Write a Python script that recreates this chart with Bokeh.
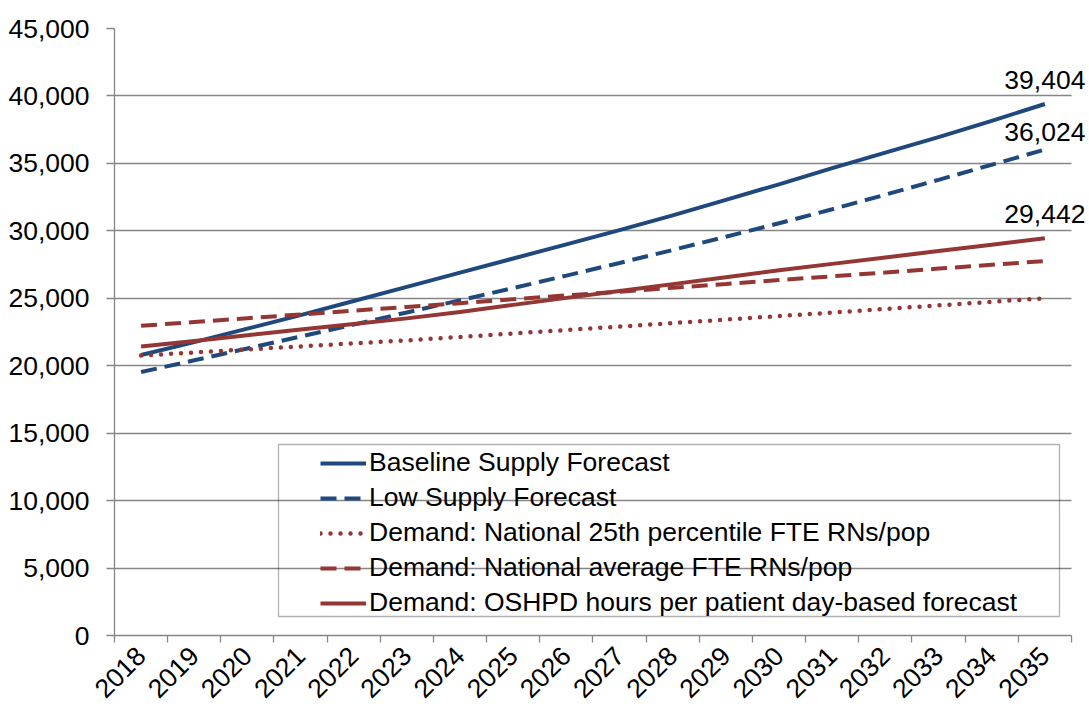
import math
from bokeh.plotting import figure
from bokeh.models import (Range1d, FixedTicker, NumeralTickFormatter, Legend, LegendItem,
                          Label, BoxAnnotation)
from bokeh.embed import file_html
from bokeh.resources import INLINE

years = list(range(2018, 2036))
baseline = [20800, 21750, 22750, 23750, 24800, 25850, 26900, 27950, 29000,
            30050, 31150, 32300, 33450, 34650, 35800, 36950, 38150, 39404]
low_supply = [19530, 20400, 21280, 22160, 23050, 23950, 24850, 25760, 26680,
              27620, 28580, 29560, 30560, 31600, 32680, 33780, 34900, 36024]
demand_25th = [20750, 20980, 21210, 21430, 21660, 21880, 22130, 22390, 22650,
               22900, 23160, 23420, 23680, 23940, 24210, 24470, 24740, 25000]
demand_avg = [22960, 23240, 23520, 23800, 24080, 24360, 24640, 24930, 25210,
              25490, 25780, 26060, 26350, 26630, 26910, 27200, 27480, 27760]
demand_oshpd = [21420, 21840, 22260, 22680, 23100, 23510, 23990, 24510, 25030,
                25540, 26050, 26560, 27070, 27550, 28020, 28500, 28970, 29442]
series_names = ["Baseline Supply Forecast",
                "Low Supply Forecast",
                "Demand: National 25th percentile FTE RNs/pop",
                "Demand: National average FTE RNs/pop",
                "Demand: OSHPD hours per patient day-based forecast"]
y_ticks = [0, 5000, 10000, 15000, 20000, 25000, 30000, 35000, 40000, 45000]

FONT = "Liberation Sans"
FS = "26.5px"
BLUE = "#1F497D"
RED = "#943634"
GRAY = "#868686"

x_lo, x_hi = years[0] - 0.5, years[-1] + 0.5
# frame extended slightly to the right so end labels are not clipped
p = figure(width=1089, height=708, output_backend="svg", toolbar_location=None,
           x_range=Range1d(x_lo, x_hi + 0.34),
           y_range=Range1d(y_ticks[0], y_ticks[-1]),
           min_border_left=114, min_border_right=0, min_border_top=28,
           min_border_bottom=70)
p.outline_line_color = None
p.background_fill_color = "white"

r1 = p.line(years, baseline, line_color=BLUE, line_width=4, line_join="round")
r2 = p.line(years, low_supply, line_color=BLUE, line_width=4, line_dash="16 8")
r3 = p.line(years, demand_25th, line_color=RED, line_width=4.5, line_dash="0 10",
            line_cap="round")
r4 = p.line(years, demand_avg, line_color=RED, line_width=4, line_dash="16 8")
r5 = p.line(years, demand_oshpd, line_color=RED, line_width=4, line_join="round")

# axes
p.xaxis.ticker = FixedTicker(ticks=years,
                             minor_ticks=[y - 0.5 for y in years] + [x_hi])
p.xaxis.bounds = (x_lo, x_hi)
p.xaxis.major_label_orientation = math.pi / 4
p.xaxis.major_tick_out = 0
p.xaxis.major_tick_in = 0
p.xaxis.minor_tick_out = 7
p.xaxis.minor_tick_in = 0
p.xaxis.minor_tick_line_color = GRAY
p.xaxis.minor_tick_line_width = 1.3
p.xaxis.axis_line_color = GRAY
p.xaxis.axis_line_width = 1.3
p.xaxis.major_label_standoff = 9

p.yaxis.ticker = FixedTicker(ticks=y_ticks)
p.yaxis.formatter = NumeralTickFormatter(format="0,0")
p.yaxis.major_tick_out = 8
p.yaxis.major_tick_in = 0
p.yaxis.minor_tick_out = 0
p.yaxis.minor_tick_in = 0
p.yaxis.major_tick_line_color = GRAY
p.yaxis.major_tick_line_width = 1.3
p.yaxis.axis_line_color = GRAY
p.yaxis.axis_line_width = 1.3
p.yaxis.major_label_standoff = 17

for ax in (p.xaxis, p.yaxis):
    ax.major_label_text_font = FONT
    ax.major_label_text_font_size = FS
    ax.major_label_text_color = "black"

p.xgrid.visible = False
p.ygrid.grid_line_color = GRAY
p.ygrid.grid_line_width = 1.3
grid = p.ygrid[0]
if "cross_bounds" in grid.properties():
    grid.cross_bounds = (x_lo, x_hi)
else:
    p.add_layout(BoxAnnotation(left=x_hi, right=x_hi + 0.34, bottom=y_ticks[0],
                               top=y_ticks[-1], fill_color="white", fill_alpha=1,
                               line_alpha=0, level="underlay"))

# legend
legend = Legend(items=[LegendItem(label=n, renderers=[r])
                       for n, r in zip(series_names, [r1, r2, r3, r4, r5])],
                location=(202, 13), orientation="vertical", padding=4, spacing=4,
                glyph_width=46, glyph_height=28, label_standoff=3,
                label_text_font=FONT, label_text_font_size=FS, label_text_color="black",
                border_line_alpha=0, background_fill_alpha=0, margin=0)
p.add_layout(legend)

p.add_layout(BoxAnnotation(left=278, right=1059, top=444, bottom=616,
                           left_units="canvas", right_units="canvas",
                           top_units="canvas", bottom_units="canvas",
                           fill_alpha=0, line_color="black", line_width=1.3))

# end-point data labels
end_series = [baseline, low_supply, demand_oshpd]
label_offsets = [24, 18, 24]
for s, off in zip(end_series, label_offsets):
    p.add_layout(Label(x=years[-1], y=s[-1], text=f"{s[-1]:,}", text_align="center",
                       text_baseline="alphabetic", y_offset=off, text_font=FONT,
                       text_font_size=FS, text_color="black"))

open("out.html", "w").write(file_html(p, INLINE))
